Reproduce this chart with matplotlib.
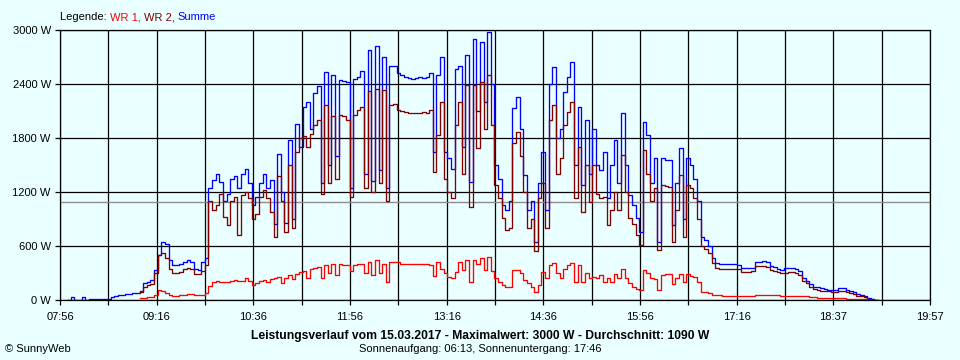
import numpy as np
import matplotlib
matplotlib.use("Agg")
import matplotlib.pyplot as plt

BG = "#EAFFFF"
FONT = "Liberation Sans"

# time base: first sample 08:02, one sample every 3 minutes (minutes since midnight)
start_min = 8 * 60 + 2
step_min = 3

nan = np.nan

summe = [0, 35, 0, 0, 35, 0, 10, 10, 10, 12, 12, 12, 35, 40, 55, 58, 62, 70, 75, 80,
         100, 185, 205, 225, 330, 500, 640, 620, 440, 390, 390, 405, 420, 440, 420, 350, 335, 420, 470, 1250,
         1330, 1400, 1310, 1100, 1180, 1350, 1380, 1250, 1400, 1460, 1300, 1060, 1150, 1300, 1400, 1250, 1330, 850, 1620, 1200,
         860, 1780, 900, 1960, 1700, 2150, 2200, 1900, 2300, 2380, 1300, 2530, 1500, 2500, 1600, 2450, 2430, 2420, 1250, 2460,
         2480, 2540, 1400, 2780, 1320, 2820, 1450, 2700, 1250, 2600, 2600, 2520, 2500, 2480, 2465, 2460, 2470, 2475, 2465, 2475,
         2520, 1650, 2500, 2700, 1650, 1574, 1460, 2570, 2600, 1700, 2720, 1315, 2900, 2100, 2870, 2200, 2980, 2400, 1500, 1350,
         1055, 1000, 1100, 2130, 2260, 1900, 1390, 1000, 1100, 650, 1300, 1650, 1000, 2400, 2590, 1800, 1900, 2315, 2480, 2650,
         1500, 2150, 1280, 2000, 1400, 1900, 1500, 1450, 1650, 1130, 1500, 1780, 1300, 2075, 1500, 1167, 1055, 907, 760, 1980,
         1833, 1300, 1574, 650, 1574, 1560, 1555, 833, 1300, 1685, 900, 1574, 1500, 1350, 1100, 700, 670, 600, 470, 410,
         400, 396, 396, 396, 400, 389, 352, 352, 352, 355, 418, 425, 433, 425, 381, 365, 345, 333, 352, 352,
         352, 345, 320, 250, 215, 175, 148, 140, 130, 122, 115, 111, 110, 130, 135, 115, 100, 85, 68, 55,
         40, 25, 11, 3, 0]

wr2 = [nan] * 20 + [
         90, 150, 170, 180, 300, 500, 520, 470, 340, 300, 295, 310, 340, 360, 340, 290, 285, 320, 390, 1100,
         1000, 1060, 1180, 920, 830, 1100, 1150, 720, 1170, 1200, 1130, 900, 960, 1150, 1220, 1130, 980, 700, 1380, 1100,
         760, 1500, 800, 1650, 1800, 1820, 1700, 1850, 1940, 2000, 1180, 2170, 1300, 2050, 1350, 2055, 2040, 2000, 1150, 2060,
         2110, 2140, 1250, 2320, 1200, 2350, 1300, 2330, 1100, 2170, 2180, 2110, 2100, 2090, 2075, 2075, 2075, 2080, 2090, 2075,
         2110, 1420, 1830, 2200, 1350, 1200, 1130, 1950, 2200, 1400, 2390, 1037, 2390, 1685, 2425, 1900, 2500, 1950, 1277, 1130,
         907, 778, 800, 1750, 1870, 1600, 1200, 800, 900, 544, 1130, 1300, 800, 2000, 2167, 1400, 1574, 1944, 2090, 2200,
         1130, 1700, 980, 1500, 1090, 1500, 1180, 1130, 1150, 833, 1000, 1200, 1000, 1611, 1200, 907, 850, 722, 611, 1667,
         1400, 1100, 1250, 560, 1277, 1270, 1260, 650, 1000, 1390, 700, 1277, 1240, 1130, 900, 600, 570, 520, 410, 352,
         340, 344, 344, 344, 344, 340, 315, 315, 315, 318, 381, 381, 381, 370, 335, 325, 310, 296, 305, 307,
         307, 300, 280, 215, 190, 150, 118, 110, 104, 100, 95, 92, 92, 100, 104, 92, 80, 65, 50, 40,
         30, 15, 8, 2, 0]

wr1 = [nan] * 20 + [
         18, 25, 35, 37, 60, 110, 100, 80, 60, 48, 50, 55, 60, 65, 62, 60, 55, 58, 80, 160,
         195, 210, 205, 195, 205, 210, 220, 215, 210, 240, 215, 170, 185, 210, 220, 205, 230, 240, 255, 190,
         240, 280, 230, 290, 310, 320, 240, 345, 355, 370, 250, 390, 300, 400, 280, 395, 390, 390, 320, 385,
         400, 395, 300, 420, 280, 440, 300, 405, 200, 420, 418, 418, 400, 396, 396, 396, 396, 396, 396, 396,
         390, 270, 420, 340, 300, 260, 250, 315, 420, 330, 440, 204, 445, 400, 463, 330, 480, 320, 240, 200,
         167, 148, 150, 330, 333, 300, 220, 185, 140, 92, 167, 315, 240, 390, 407, 300, 250, 350, 390, 407,
         200, 390, 200, 300, 250, 260, 240, 278, 200, 240, 200, 290, 240, 350, 250, 185, 148, 120, 111, 333,
         300, 250, 230, 111, 278, 285, 285, 180, 250, 290, 200, 285, 270, 260, 200, 92, 90, 75, 55, 55,
         55, 48, 48, 48, 48, 48, 48, 48, 48, 48, 55, 55, 55, 55, 55, 55, 55, 50, 48, 48,
         48, 48, 48, 48, 40, 37, 37, 25, 18, 18, 18, 18, 18, 22, 26, 11, 11, 11, 11, 11,
         8, 5, 3, 1, 0]

x_tick_labels = ["07:56", "09:16", "10:36", "11:56", "13:16", "14:36", "15:56", "17:16", "18:37", "19:57"]
x_start, x_end = 7 * 60 + 56, 19 * 60 + 57
y_ticks = [0, 600, 1200, 1800, 2400, 3000]
average_w = 1090

t = start_min + step_min * np.arange(len(summe))

fig = plt.figure(figsize=(9.6, 3.6), dpi=100, facecolor=BG)
ax = fig.add_axes([60 / 960, 60 / 360, 870 / 960, 270 / 360])
ax.set_facecolor(BG)

ax.set_xlim(x_start, x_end)
ax.set_ylim(0, 3000)

xt = np.linspace(x_start, x_end, 19)
ax.set_xticks(xt)
labels = []
for k in range(19):
    labels.append(x_tick_labels[k // 2] if k % 2 == 0 else "")
ax.set_xticklabels(labels, fontfamily=FONT, fontsize=8)
ax.set_yticks(y_ticks)
ax.set_yticklabels([f"{v} W" for v in y_ticks], fontfamily=FONT, fontsize=8)
ax.tick_params(axis="both", direction="out", length=3.6, width=0.9, color="black")
ax.tick_params(axis="x", pad=5)
ax.tick_params(axis="y", pad=3)

ax.grid(True, color="black", linewidth=0.9, zorder=1)
ax.set_axisbelow(True)
for s in ax.spines.values():
    s.set_color("black")
    s.set_linewidth(0.9)
    s.set_zorder(10)

ax.axhline(average_w, color="#8c8c8c", linewidth=1.0, zorder=2)

for vals, col, z in ((summe, "#0000FF", 3), (wr2, "#800000", 4), (wr1, "#FF0000", 5)):
    ax.plot(t, vals, color=col, linewidth=0.95, drawstyle="steps-post", zorder=z)

# legend line at top
t0 = fig.text(60 / 960, 1 - 17 / 360, "Legende: ", fontfamily=FONT, fontsize=8, va="center", color="black")
t1 = ax.annotate("WR 1, ", xy=(1, 0), xycoords=t0, va="bottom", fontfamily=FONT, fontsize=8, color="#FF0000")
t2 = ax.annotate("WR 2, ", xy=(1, 0), xycoords=t1, va="bottom", fontfamily=FONT, fontsize=8, color="#800000")
t3 = ax.annotate("Summe", xy=(1, 0), xycoords=t2, va="bottom", fontfamily=FONT, fontsize=8, color="#0000FF")

fig.text(480 / 960, 1 - 336 / 360,
         "Leistungsverlauf vom 15.03.2017 - Maximalwert: 3000 W - Durchschnitt: 1090 W",
         ha="center", va="center", fontfamily=FONT, fontsize=8.7, fontweight="bold")
fig.text(480 / 960, 1 - 349 / 360, "Sonnenaufgang: 06:13, Sonnenuntergang: 17:46",
         ha="center", va="center", fontfamily=FONT, fontsize=8)
fig.text(5 / 960, 1 - 349 / 360, "© SunnyWeb", ha="left", va="center", fontfamily=FONT, fontsize=8)

fig.savefig("out.png", dpi=100, facecolor=BG)
